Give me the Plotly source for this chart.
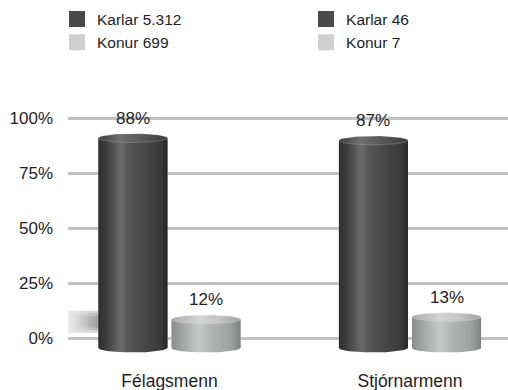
import numpy as np
import plotly.graph_objects as go

# Survey shares by group, split by gender
groups = ["Félagsmenn", "Stjórnarmenn"]
karlar_pct = [88, 87]
konur_pct = [12, 13]
karlar_n = ["5.312", "46"]
konur_n = ["699", "7"]
y_ticks = [0, 25, 50, 75, 100]
y_ticktext = [f"{v}%" for v in y_ticks]

FONT = "Liberation Sans, Arial, sans-serif"
TXT = "#1e1e1e"

# bar geometry (x units: one group per unit)
BAR_W = 0.287
OFF = 0.152
RY = 1.85  # vertical radius of the cylinder caps, in y2 units

DARK = dict(
    legend="#4a4a4a",
    body=[[0, "#2e2e2e"], [0.12, "#3e3e3e"], [0.33, "#6c6c6c"], [0.42, "#575757"],
          [0.7, "#454545"], [0.9, "#3a3a3a"], [1, "#262626"]],
    cap=[[0, "#3a3a3a"], [0.3, "#6f6f6f"], [0.6, "#5a5a5a"], [1, "#3c3c3c"]],
)
LIGHT = dict(
    legend="#d0d0d0",
    body=[[0, "#8a8b8b"], [0.15, "#a2a3a3"], [0.4, "#c6c7c7"], [0.55, "#b4b5b5"],
          [0.85, "#a0a1a1"], [1, "#7f8080"]],
    cap=[[0, "#a9aaaa"], [0.4, "#d2d3d3"], [0.7, "#c2c3c3"], [1, "#a3a4a4"]],
)

fig = go.Figure()

# soft floor shadow to the left of the first column (drawn behind everything)
shadow_right = 0 - OFF - BAR_W / 2
shadow_left = -0.43
for lo, hi, dark in ((2.4, 12.4, "#d2d2d2"), (3.6, 11.2, "#b8b8b8"), (4.8, 10.0, "#9e9e9e")):
    fig.add_trace(go.Scatter(
        x=[shadow_left, shadow_right, shadow_right, shadow_left, shadow_left],
        y=[lo, lo, hi, hi, lo], mode="lines", fill="toself",
        line=dict(width=0, color="rgba(0,0,0,0)"),
        fillgradient=dict(type="horizontal", start=-0.48, stop=shadow_right,
                          colorscale=[[0, "#ffffff"], [0.45, "#e2e2e2"], [1, dark]]),
        hoverinfo="skip", showlegend=False,
    ))


def cylinder(xc, val, style):
    """Shaded cylinder drawn over a bar on the y2 scale."""
    x0, x1 = xc - BAR_W / 2, xc + BAR_W / 2
    t = np.linspace(np.pi, 2 * np.pi, 40)
    bx = xc + (BAR_W / 2) * np.cos(t)
    by = RY * np.sin(t)
    body_x = list(bx) + [x1, x0, x0]
    body_y = list(by) + [val, val, 0]
    fig.add_trace(go.Scatter(
        x=body_x, y=body_y, yaxis="y2", mode="lines", fill="toself",
        line=dict(width=0, color="rgba(0,0,0,0)"),
        fillgradient=dict(type="horizontal", colorscale=style["body"]),
        hoverinfo="skip", showlegend=False,
    ))
    tt = np.linspace(0, 2 * np.pi, 60)
    fig.add_trace(go.Scatter(
        x=xc + (BAR_W / 2) * np.cos(tt), y=val + RY * np.sin(tt), yaxis="y2",
        mode="lines", fill="toself",
        line=dict(width=0.8, color="rgba(255,255,255,0.25)"),
        fillgradient=dict(type="horizontal", colorscale=style["cap"]),
        hoverinfo="skip", showlegend=False,
    ))


for i, g in enumerate(groups):
    leg = "legend" if i == 0 else "legend2"
    for val, style, sign in ((karlar_pct[i], DARK, -1), (konur_pct[i], LIGHT, 1)):
        xc = i + sign * OFF
        fig.add_trace(go.Bar(
            x=[i], y=[val], width=BAR_W, offset=sign * OFF - BAR_W / 2,
            yaxis="y2", marker=dict(color=style["body"][2][1], line=dict(width=0)),
            showlegend=False, hoverinfo="skip",
        ))
        cylinder(xc, val, style)
        fig.add_annotation(
            x=xc, y=val, yref="y2", text=f"{val}%", showarrow=False,
            yanchor="bottom", yshift=8, font=dict(family=FONT, size=17, color=TXT),
        )
    # legend entries for this group
    fig.add_trace(go.Scatter(
        x=[None], y=[None], mode="markers", name=f"Karlar {karlar_n[i]}",
        marker=dict(symbol="square", size=16, color=DARK["legend"]), legend=leg,
    ))
    fig.add_trace(go.Scatter(
        x=[None], y=[None], mode="markers", name=f"Konur {konur_n[i]}",
        marker=dict(symbol="square", size=16, color=LIGHT["legend"]), legend=leg,
    ))

legend_style = dict(
    orientation="v", yanchor="top", xanchor="left", bgcolor="rgba(0,0,0,0)",
    font=dict(family=FONT, size=15.5, color=TXT), itemclick=False,
    tracegroupgap=0,
)

fig.update_layout(
    width=508, height=390,
    margin=dict(l=68, r=0, t=100, b=30),
    paper_bgcolor="white", plot_bgcolor="white",
    barmode="overlay",
    font=dict(family=FONT, color=TXT),
    legend=dict(x=-0.025, y=1.375, **legend_style),
    legend2=dict(x=0.541, y=1.375, **legend_style),
    xaxis=dict(
        range=[-0.422, 1.4075], tickvals=[0, 1], ticktext=groups,
        showgrid=False, zeroline=False, showline=False, ticks="",
        tickfont=dict(family=FONT, size=17.5, color=TXT), ticklabelstandoff=8,
    ),
    yaxis=dict(
        range=[-10, 108.18], tickvals=y_ticks, ticktext=y_ticktext,
        showgrid=True, gridcolor="#c2c2c2", gridwidth=2.5, zeroline=False,
        showline=False, ticks="", ticklabelstandoff=14,
        tickfont=dict(family=FONT, size=17, color=TXT),
    ),
    yaxis2=dict(range=[-5.03, 103.94], overlaying="y", visible=False),
)

fig.write_html("out.html")
